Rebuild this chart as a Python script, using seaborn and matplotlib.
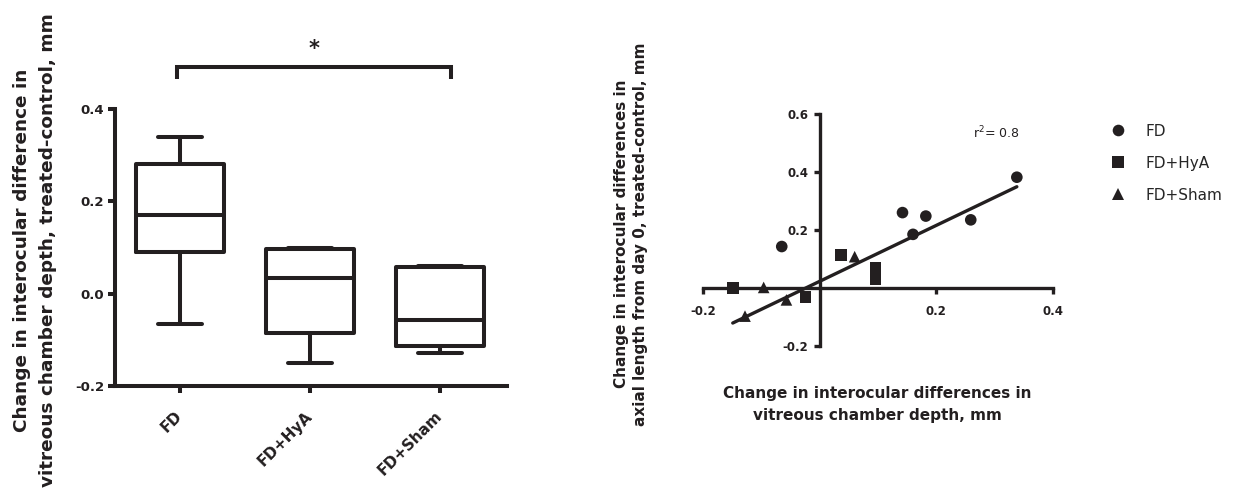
import numpy as np
import pandas as pd
import matplotlib
matplotlib.use("Agg")
import matplotlib.pyplot as plt
import seaborn as sns

# ---------------- data ----------------
groups = ["FD", "FD+HyA", "FD+Sham"]
# box plot: min, Q1, median, Q3, max for each group
box_fd = [-0.066, 0.091, 0.170, 0.280, 0.339]
box_hya = [-0.151, -0.086, 0.035, 0.096, 0.098]
box_sham = [-0.128, -0.113, -0.057, 0.058, 0.061]
box_yticks = [-0.2, 0.0, 0.2, 0.4]

# scatter: vitreous chamber depth change (x) vs axial length change (y)
fd_x = [-0.065, 0.142, 0.160, 0.182, 0.259, 0.338]
fd_y = [0.143, 0.260, 0.185, 0.248, 0.235, 0.382]
hya_x = [-0.149, -0.024, 0.037, 0.096, 0.096]
hya_y = [0.000, -0.030, 0.114, 0.071, 0.030]
sham_x = [-0.128, -0.096, -0.057, 0.060]
sham_y = [-0.097, 0.002, -0.041, 0.108]
fit_slope = 0.965
fit_intercept = 0.023
r2_text = "r$^2$= 0.8"
scatter_xticks = [-0.2, 0.2, 0.4]
scatter_yticks = [-0.2, 0.2, 0.4, 0.6]

box_ylabel = "Change in interocular difference in\nvitreous chamber depth, treated-control, mm"
sc_ylabel = "Change in interocular differences in\naxial length from day 0, treated-control, mm"
sc_xlabel = "Change in interocular differences in\nvitreous chamber depth, mm"

# ---------------- style ----------------
ink = "#231f20"
sns.set_style("ticks")
plt.rcParams["font.family"] = ["DejaVu Sans"]
plt.rcParams["axes.unicode_minus"] = False

W, H = 1234, 491
fig = plt.figure(figsize=(W / 100, H / 100), dpi=100)

# ---------------- left: box plot ----------------
ax1 = fig.add_axes([115 / W, 1 - 386 / H, 392 / W, 277 / H])
box_df = pd.DataFrame({
    "group": np.repeat(groups, 5),
    "value": box_fd + box_hya + box_sham,
})
sns.boxplot(data=box_df, x="group", y="value", order=groups, whis=(0, 100),
            width=0.68, fill=False, color=ink, linewidth=2.9, ax=ax1)
ax1.set_ylim(-0.2, 0.4)
ax1.set_xlim(-0.5, 2.515)
ax1.set_yticks(box_yticks)
ax1.set_yticklabels([f"{v:.1f}" for v in box_yticks], fontsize=9.5, fontweight="bold")
ax1.set_xticks(range(len(groups)))
ax1.set_xticklabels(groups, rotation=45, ha="right", va="center",
                    rotation_mode="anchor", fontsize=11, fontweight="bold")
ax1.set_xlabel("")
ax1.set_ylabel("")
sns.despine(ax=ax1)
for s in ("left", "bottom"):
    ax1.spines[s].set_linewidth(2.9)
    ax1.spines[s].set_color(ink)
ax1.tick_params(axis="y", width=2.9, length=5, pad=3, colors=ink)
ax1.tick_params(axis="x", width=2.9, length=5, pad=15, colors=ink)

# significance bracket between FD and FD+Sham
bx0, bx1 = 0 - 0.025, 2 + 0.085
ax1.plot([bx0, bx0, bx1, bx1], [0.465, 0.491, 0.491, 0.465], color=ink, lw=2.9,
         clip_on=False, solid_joinstyle="miter", solid_capstyle="butt")
ax1.text((bx0 + bx1) / 2, 0.530, "*", ha="center", va="center", fontsize=15,
         fontweight="bold", color=ink, clip_on=False)

fig.text(35 / W, 1 - 250 / H, box_ylabel, rotation=90, ha="center", va="center",
         multialignment="center", fontsize=13.3, fontweight="bold", color=ink,
         linespacing=1.58)

# ---------------- right: scatter with fit ----------------
ax2 = fig.add_axes([703 / W, 1 - 346 / H, 350 / W, 232 / H])
sc_df = pd.DataFrame({
    "x": fd_x + hya_x + sham_x,
    "y": fd_y + hya_y + sham_y,
    "group": ["FD"] * len(fd_x) + ["FD+HyA"] * len(hya_x) + ["FD+Sham"] * len(sham_x),
})
xs = np.array([sc_df["x"].min(), sc_df["x"].max()])
sns.lineplot(x=xs, y=fit_intercept + fit_slope * xs, color=ink, lw=2.4, ax=ax2)
sns.scatterplot(data=sc_df, x="x", y="y", style="group", style_order=groups,
                markers={"FD": "o", "FD+HyA": "s", "FD+Sham": "^"},
                color=ink, s=70, linewidth=0, ax=ax2, zorder=3)
ax2.set_xlim(-0.2, 0.4)
ax2.set_ylim(-0.2, 0.6)
ax2.spines["left"].set_position(("data", 0))
ax2.spines["bottom"].set_position(("data", 0))
ax2.spines["right"].set_visible(False)
ax2.spines["top"].set_visible(False)
for s in ("left", "bottom"):
    ax2.spines[s].set_linewidth(2.4)
    ax2.spines[s].set_color(ink)
ax2.set_xticks(scatter_xticks)
ax2.set_xticklabels([f"{v:.1f}" for v in scatter_xticks], fontsize=8.5, fontweight="bold")
ax2.set_yticks(scatter_yticks)
ax2.set_yticklabels([f"{v:.1f}" for v in scatter_yticks], fontsize=8.5, fontweight="bold")
ax2.tick_params(axis="x", width=2.4, length=4, pad=8, colors=ink)
ax2.tick_params(axis="y", width=2.4, length=4, pad=4, colors=ink)
ax2.set_xlabel("")
ax2.set_ylabel("")

handles, labels = ax2.get_legend_handles_labels()
keep = [(h, l) for h, l in zip(handles, labels) if l in groups]
ax2.legend([h for h, _ in keep], [l for _, l in keep], loc="upper left",
           bbox_to_anchor=(1110.4 / W, 1 - 123.5 / H), bbox_transform=fig.transFigure,
           frameon=False, borderpad=0, borderaxespad=0, handlelength=1,
           handletextpad=1.33, labelspacing=1.12, fontsize=11)

fig.text(973 / W, 1 - 133 / H, r2_text, ha="left", va="center", fontsize=9, color=ink)
fig.text(877 / W, 1 - 404.5 / H, sc_xlabel, ha="center", va="center",
         multialignment="center", fontsize=11, fontweight="bold", color=ink,
         linespacing=1.6)
fig.text(631 / W, 1 - 234 / H, sc_ylabel, rotation=90, ha="center", va="center",
         multialignment="center", fontsize=11, fontweight="bold", color=ink,
         linespacing=1.29)

fig.savefig("out.png", dpi=100)
